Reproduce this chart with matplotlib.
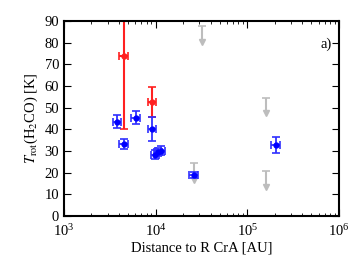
import numpy as np
import matplotlib
matplotlib.use('Agg')
import matplotlib.pyplot as plt
from matplotlib.ticker import LogLocator, MultipleLocator, NullFormatter

plt.rcParams['font.family'] = 'Liberation Serif'
plt.rcParams['mathtext.fontset'] = 'stix'
plt.rcParams['font.size'] = 10.5

# blue points
blue_x = [3800, 6100, 4500, 9200, 9900, 10600, 11400, 26000, 205000]
blue_y = [43.5, 45.4, 33.2, 40.1, 28.3, 29.5, 30.2, 18.9, 32.8]
blue_xerr = [400, 650, 480, 950, 1000, 1100, 1200, 2700, 21000]
blue_yerr = [3, 3, 2.5, 5.5, 2, 2, 2, 1.5, 3.5]

# red points
red_x = [4500, 9200]
red_y = [74, 52.7]
red_xerr = [480, 950]
red_yerr = [34, 7]

# gray upper limits
gray_x = [32500, 26000, 160000, 160000]
gray_top = [87.7, 24.4, 54.3, 20.9]
gray_tip = [80.5, 16.5, 47.5, 13.5]

fig = plt.figure(figsize=(3.53, 2.64), dpi=100)
ax = fig.add_axes([0.181, 0.182, 0.779, 0.738])

# gray limits
ax.vlines(gray_x, gray_tip, gray_top, color='#bdbdbd', lw=1.5, zorder=1)
ax.plot(gray_x, gray_top, ls='none', marker='_', ms=6, mew=1.2, color='#bdbdbd', zorder=1)
ax.plot(gray_x, gray_tip, ls='none', marker='v', ms=5, color='#bdbdbd', zorder=1)

ax.errorbar(red_x, red_y, xerr=red_xerr, yerr=red_yerr, fmt='o', ms=3.5,
            color='#ff2020', ecolor='#ff2020', elinewidth=1.5, capsize=3, capthick=1.2, zorder=2)
ax.errorbar(blue_x, blue_y, xerr=blue_xerr, yerr=blue_yerr, fmt='o', ms=3.5,
            color='#0000ff', ecolor='#3030ff', elinewidth=1.3, capsize=3, capthick=1.2, zorder=3)

ax.set_xscale('log')
ax.set_xlim(1e3, 1e6)
ax.set_ylim(0, 90)
ax.yaxis.set_major_locator(MultipleLocator(10))
ax.xaxis.set_major_locator(LogLocator(base=10, numticks=10))
ax.xaxis.set_minor_locator(LogLocator(base=10, subs=np.arange(2, 10), numticks=20))
ax.xaxis.set_minor_formatter(NullFormatter())
ax.tick_params(which='both', direction='in', top=True, right=True)
ax.tick_params(which='major', length=5, width=0.8)
ax.tick_params(which='minor', length=2.5, width=0.6)
ax.tick_params(axis='x', which='major', pad=5)
for s in ax.spines.values():
    s.set_linewidth(1.5)

ax.set_xlabel('Distance to R CrA [AU]', labelpad=2)
ax.set_ylabel(r'$T_{\rm rot}$(H$_2$CO) [K]', labelpad=3)
ax.text(0.975, 0.88, 'a)', transform=ax.transAxes, ha='right', va='center')

fig.savefig('out.png', dpi=100)
